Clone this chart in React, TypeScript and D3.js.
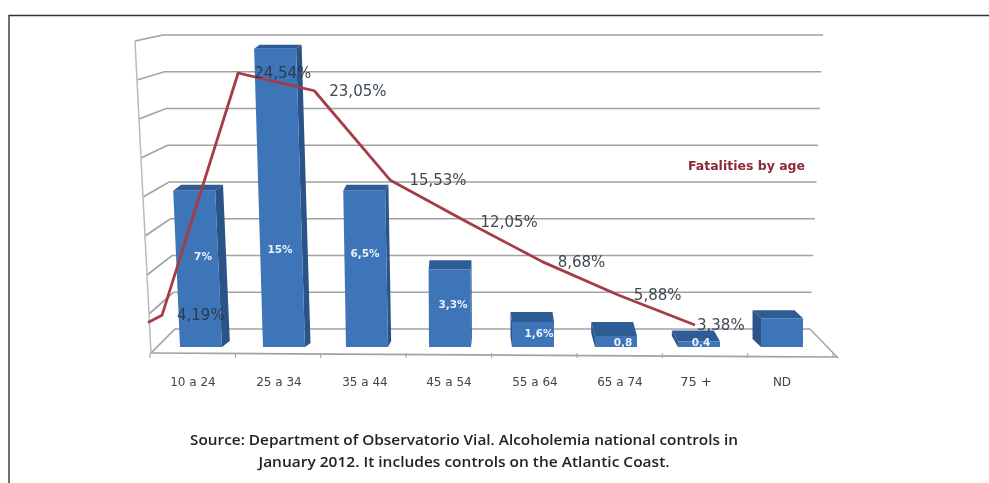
import React from "react";
import * as d3 from "d3";

const categories = ["10  a 24", "25 a 34", "35 a 44", "45 a 54", "55 a 64", "65 a 74", "75 +", "ND"];
const barValues = [8.8, 16.4, 8.8, 4.7, 1.9, 1.35, 0.9, 2.0];
const barLabels = ["7%", "15%", "6,5%", "3,3%", "1,6%", "0,8", "0,4", ""];
const lineValues = [4.19, 24.54, 23.05, 15.53, 12.05, 8.68, 5.88, 3.38];
const lineLabels = ["4,19%", "24,54%", "23,05%", "15,53%", "12,05%", "8,68%", "5,88%", "3,38%"];
const lineStartValue = 3.6;
const gridValues = [0, 2, 4, 6, 8, 10, 12, 14, 16];
const legendText = "Fatalities by age";
const sourceLines = [
  "Source: Department of Observatorio Vial. Alcoholemia national controls in",
  "January 2012. It includes controls on the Atlantic Coast.",
];

const barX = d3.scaleLinear().domain([0, 7]).range([201, 782]);
const barY = d3.scaleLinear().domain([0, 16]).range([347, 52]);
const lineX = d3.scaleLinear().domain([0, 7]).range([162, 695]);
const lineY = d3.scaleLinear().domain([3.38, 24.54]).range([325, 73]);
const backY = d3.scaleLinear().domain([0, 16]).range([329, 35]);
const backLeft = d3.scaleLinear().domain([0, 16]).range([175, 163]);
const backRight = d3.scaleLinear().domain([0, 16]).range([810, 823]);
const sideY = d3.scaleLinear().domain([0, 16]).range([353, 41]);
const sideX = d3.scaleLinear().domain([0, 16]).range([151, 135]);
const tickX = d3.scaleLinear().domain([0, 8]).range([150, 833]);

const labelDx = [15, 16, 15, 19, 14, 15, 15, 2];
const barTopDepth = [6, 4, 6, 9, 10, 14, 11, 8];
const barLabelAt = [4.9, 5.3, 5.1, 2.33, 0.76, 0.27, 0.27, 0];
const barLabelDx = [2, -4, -2, 3, 6, 7, 2, 0];
const catX = [193, 279, 365, 449, 535, 620, 696, 782];
const sourceWidths = [548, 411];

const line = d3
  .line<[number, number]>()
  .x((d) => d[0])
  .y((d) => d[1]);
const poly = (p: [number, number][]) => "M" + p.map((q) => q.join(",")).join("L") + "Z";

const sans = "'DejaVu Sans', sans-serif";

export default function App() {
  const halfW = 21;
  const linePts: [number, number][] = [
    [148, lineY(lineStartValue)],
    ...lineValues.map((v, i) => [lineX(i), lineY(v)] as [number, number]),
  ];
  return (
    <svg
      width={989}
      height={483}
      style={{ position: "absolute", left: 0, top: 0, background: "#fff" }}
    >
      <defs>
        <filter id="soft" x="-5%" y="-5%" width="110%" height="110%">
          <feGaussianBlur stdDeviation="0.7" />
        </filter>
      </defs>
      <path d="M9,483V15.5H989" fill="none" stroke="#333" strokeWidth={1.4} />
      <g filter="url(#soft)">
        {gridValues.map((v) => (
          <path
            key={v}
            d={line([
              [sideX(v), sideY(v)],
              [backLeft(v), backY(v)],
              [backRight(v), backY(v)],
            ]) as string}
            fill="none"
            stroke="#a2a2a2"
            strokeWidth={1.7}
          />
        ))}
        <path d={line([[sideX(0), sideY(0)], [sideX(16), sideY(16)]]) as string} stroke="#bbb" strokeWidth={1.5} fill="none" />
        <path d={line([[151, 353], [838, 357]]) as string} stroke="#a2a2a2" strokeWidth={1.7} fill="none" />
        <path d={line([[810, 329], [838, 358]]) as string} stroke="#a2a2a2" strokeWidth={1.4} fill="none" />
        {d3.range(0, 9).map((i) => (
          <path key={i} d={line([[tickX(i), 353], [tickX(i), 358]]) as string} stroke="#aaa" strokeWidth={1.2} fill="none" />
        ))}

        {barValues.map((v, i) => {
          const c = barX(i);
          const y0 = barY(0);
          const y1 = barY(v);
          const shear = (y0 - y1) * Math.max(0, 480 - c) * 0.00015;
          const dx = (480 - c) * 0.028;
          const depth = barTopDepth[i];
          const bl: [number, number] = [c - halfW, y0];
          const br: [number, number] = [c + halfW, y0];
          const tl: [number, number] = [c - halfW - shear, y1 + depth];
          const tr: [number, number] = [c + halfW - shear, y1 + depth];
          const btl: [number, number] = [tl[0] + dx, y1];
          const btr: [number, number] = [tr[0] + dx, y1];
          const side: [number, number][] =
            dx > 0
              ? [tr, btr, [br[0] + dx, y0 - depth], br]
              : [tl, btl, [bl[0] + dx, y0 - depth], bl];
          return (
            <g key={i}>
              <path d={poly(side)} fill="#2b5288" />
              <path d={poly([tl, btl, btr, tr])} fill="#2f5b94" />
              <path d={poly([bl, tl, tr, br])} fill="#3e74b8" />
              {barLabels[i] && (
                <text
                  x={c + barLabelDx[i]}
                  y={barY(barLabelAt[i])}
                  dy="0.35em"
                  textAnchor="middle"
                  fontFamily={sans}
                  fontWeight="bold"
                  fontSize={10.5}
                  fill="#e8f0fa"
                >
                  {barLabels[i]}
                </text>
              )}
            </g>
          );
        })}

        <path d={line(linePts) as string} fill="none" stroke="#a53c46" strokeWidth={2.8} strokeLinejoin="round" />

        {lineLabels.map((t, i) => (
          <text
            key={t}
            x={lineX(i) + labelDx[i]}
            y={lineY(lineValues[i]) + 5}
            fontFamily={sans}
            fontSize={15}
            fill="#2a3540"
            opacity={0.9}
          >
            {t}
          </text>
        ))}

        <text x={746.5} y={170} textAnchor="middle" fontFamily={sans} fontWeight="bold" fontSize={12.5} fill="#8a2a35">
          {legendText}
        </text>

        {categories.map((c, i) => (
          <text key={c} x={catX[i]} y={386} textAnchor="middle" fontFamily={sans} fontSize={i === 6 ? 13 : 12} fill="#444">
            {c}
          </text>
        ))}

        {sourceLines.map((s, i) => (
          <text
            key={s}
            x={464}
            y={445 + i * 22}
            textAnchor="middle"
            textLength={sourceWidths[i]}
            lengthAdjust="spacingAndGlyphs"
            fontFamily="'Open Sans', sans-serif"
            fontWeight={600}
            fontSize={13.5}
            fill="#222"
          >
            {s}
          </text>
        ))}
      </g>
    </svg>
  );
}
